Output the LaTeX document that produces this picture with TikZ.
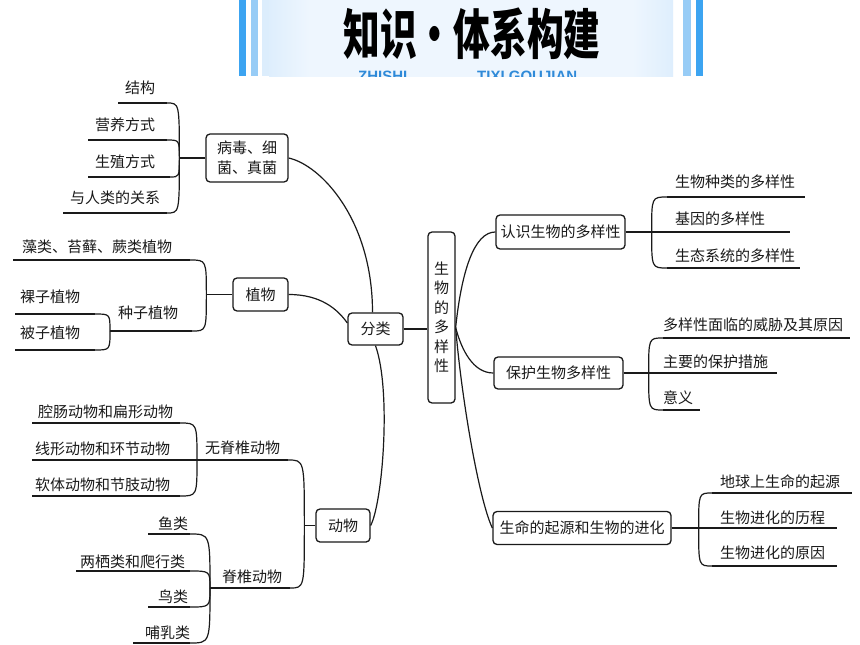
\documentclass[tikz,border=0pt]{standalone}
\usepackage{fontspec}
\setmainfont{Noto Sans CJK SC}
\newfontfamily\latinfont{Liberation Sans}
\usetikzlibrary{calc}
\definecolor{bnA}{HTML}{8EC6F5}
\definecolor{bnB}{HTML}{EEF6FE}
\definecolor{bnP}{HTML}{DCEDFC}
\definecolor{barD}{HTML}{3CA4F1}
\definecolor{barL}{HTML}{97CCF6}
\definecolor{subblue}{HTML}{2F8AD8}
\definecolor{ink}{HTML}{1A1A1A}
\pgfdeclarehorizontalshading{bannershade}{100bp}{color(0bp)=(bnA); color(30bp)=(bnB); color(70bp)=(bnB); color(100bp)=(bnA)}
\newcommand\leafnode[7]{%
  \coordinate (#1l) at (#2,#4);
  \coordinate (#1r) at (#3,#4);
  \node[lf] (#1) at (#5,#6) {#7};
  \draw[ul] (#1l) -- (#1r);}
\newcommand\lnk[2]{\draw[cn] (#1) .. controls (#1 |- #2) .. (#2);}
\begin{document}
\begin{tikzpicture}[x=1pt, y=-1pt,
  box/.style={draw=ink, rounded corners=4pt, line width=1.3pt, inner sep=0pt,
    text=ink, font=\fontsize{15}{20}\selectfont, align=center},
  lf/.style={anchor=west, inner sep=0pt, text=ink, font=\fontsize{15}{18}\selectfont},
  ul/.style={draw=ink, line width=1.3pt},
  cn/.style={draw=ink, line width=1.2pt},
  sub/.style={font=\latinfont\bfseries\fontsize{15}{15}\selectfont, text=subblue, anchor=base west, inner sep=0pt}]
\useasboundingbox (0,0) rectangle (860,645);
\fill[white] (0,0) rectangle (860,645);
% banner
\fill[barD] (239,0) rectangle (246,76);
\fill[barL] (251,0) rectangle (258,76);
\fill[bnP] (262,0) rectangle (269,76);
\shade[shading=bannershade] (269,0) rectangle (673,76);
\fill[barL] (683,0) rectangle (691,76);
\fill[barD] (696,0) rectangle (703,76);
\begin{scope}
  \clip (262,0) rectangle (673,76);
  \node[sub] (zs) at (358,81) {ZHISHI};
  \node[sub] (tx) at (477,81) {TIXI GOUJIAN};
\end{scope}
\begin{scope}[shift={(472,34)}, xscale=0.68]
  \node[transform shape, font=\bfseries\fontsize{54}{54}\selectfont, text=black, inner sep=0pt] (title) at (0,0) {知识・体系构建};
\end{scope}
% ---------- left: 病毒细菌真菌
\node[box, minimum width=82pt, minimum height=48pt] (b1) at (247,158) {病毒、细\\菌、真菌};
\coordinate (J1) at ($(b1.west)+(-26,0)$);
\draw[cn] (b1.west) -- (J1);
\leafnode{a1}{118}{167}{103}{125}{88}{结构}
\leafnode{a2}{88}{167}{140}{95}{125}{营养方式}
\leafnode{a3}{88}{170}{177}{95}{162}{生殖方式}
\leafnode{a4}{63}{167}{213}{70}{198}{与人类的关系}
\lnk{J1}{a1r}\lnk{J1}{a2r}\lnk{J1}{a3r}\lnk{J1}{a4r}
% ---------- 植物
\node[box, minimum width=55pt, minimum height=33pt] (b2) at (260.5,294.5) {植物};
\coordinate (J2) at ($(b2.west)+(-26,0)$);
\draw[cn] (b2.west) -- (J2);
\leafnode{p1}{13}{190}{260}{22}{247}{藻类、苔藓、蕨类植物}
\leafnode{p2}{110}{192}{331}{118}{313}{种子植物}
\leafnode{p3}{15}{95}{314}{20}{297}{裸子植物}
\leafnode{p4}{15}{95}{350}{20}{333}{被子植物}
\lnk{J2}{p1r}\lnk{J2}{p2r}\lnk{p2l}{p3r}\lnk{p2l}{p4r}
% ---------- 分类
\node[box, minimum width=55pt, minimum height=32pt] (bf) at (375.5,329) {分类};
% ---------- 动物
\node[box, minimum width=54pt, minimum height=33pt] (b3) at (343,525.5) {动物};
\coordinate (J4) at ($(b3.west)+(-11,0)$);
\draw[cn] (b3.west) -- (J4);
\leafnode{n1}{197}{288}{460}{205}{448}{无脊椎动物}
\leafnode{n2}{210}{290}{588}{222}{577}{脊椎动物}
\lnk{J4}{n1r}\lnk{J4}{n2r}
\leafnode{n3}{32}{180}{423}{38}{412}{腔肠动物和扁形动物}
\leafnode{n4}{32}{180}{460}{35}{449}{线形动物和环节动物}
\leafnode{n5}{32}{180}{496}{35}{485}{软体动物和节肢动物}
\lnk{n1l}{n3r}\draw[cn] (n1l) -- (n4r);\lnk{n1l}{n5r}
\leafnode{n6}{148}{190}{534}{158}{524}{鱼类}
\leafnode{n7}{76}{190}{571}{80}{562}{两栖类和爬行类}
\leafnode{n8}{148}{190}{607}{158}{597}{鸟类}
\leafnode{n9}{133}{190}{643}{145}{633}{哺乳类}
\lnk{n2l}{n6r}\lnk{n2l}{n7r}\lnk{n2l}{n8r}\lnk{n2l}{n9r}
% connections of 分类
\coordinate (F1) at ($(bf.north)+(-3,0)$);
\draw[cn] (F1) .. controls +(0,-93) and +(32,7) .. (b1.east);
\coordinate (F2) at ($(bf.west)+(0,-6)$);
\draw[cn] (b2.east) .. controls +(32,0) and +(-10,-14) .. (F2);
\draw[cn] (bf.south) .. controls +(16,45) and +(12,-23) .. (b3.east);
% ---------- centre
\node[box, minimum width=27pt, minimum height=171pt, font=\fontsize{15}{19.5}\selectfont] (c) at (441.5,317.5) {生\\物\\的\\多\\样\\性};
\draw[cn] (bf.east) -- (bf.east -| c.west);
\coordinate (S) at ($(c.east)+(0,10)$);
% ---------- right boxes
\node[box, minimum width=129pt, minimum height=34pt] (b5) at (560.5,232) {认识生物的多样性};
\node[box, minimum width=129pt, minimum height=32pt] (b6) at (558.5,373) {保护生物多样性};
\node[box, minimum width=178pt, minimum height=33pt] (b7) at (582,528) {生命的起源和生物的进化};
\draw[cn] (S) .. controls +(6,-57) and +(-21,0) .. (b5.west);
\draw[cn] (S) .. controls +(6,23) and +(-20,0) .. (b6.west);
\draw[cn] (S) .. controls +(6,73) and +(-13,-27) .. (b7.west);
% 认识
\coordinate (J7) at ($(b5.east)+(26,0)$);
\draw[cn] (b5.east) -- (J7);
\leafnode{r1}{667}{805}{197}{675}{182}{生物种类的多样性}
\leafnode{r2}{651}{790}{232}{675}{219}{基因的多样性}
\leafnode{r3}{667}{800}{268}{675}{256}{生态系统的多样性}
\lnk{J7}{r1l}\lnk{J7}{r3l}
% 保护
\coordinate (J8) at ($(b6.east)+(25,0)$);
\draw[cn] (b6.east) -- (J8);
\leafnode{s1}{663}{850}{338}{663}{325}{多样性面临的威胁及其原因}
\leafnode{s2}{648}{777}{373}{663}{362}{主要的保护措施}
\leafnode{s3}{663}{700}{410}{663}{398}{意义}
\lnk{J8}{s1l}\lnk{J8}{s3l}
% 生命
\coordinate (J9) at ($(b7.east)+(27,0)$);
\draw[cn] (b7.east) -- (J9);
\leafnode{t1}{712}{852}{493}{720}{482}{地球上生命的起源}
\leafnode{t2}{698}{837}{528}{720}{518}{生物进化的历程}
\leafnode{t3}{712}{837}{566}{720}{553}{生物进化的原因}
\lnk{J9}{t1l}\lnk{J9}{t3l}
\end{tikzpicture}
\end{document}
